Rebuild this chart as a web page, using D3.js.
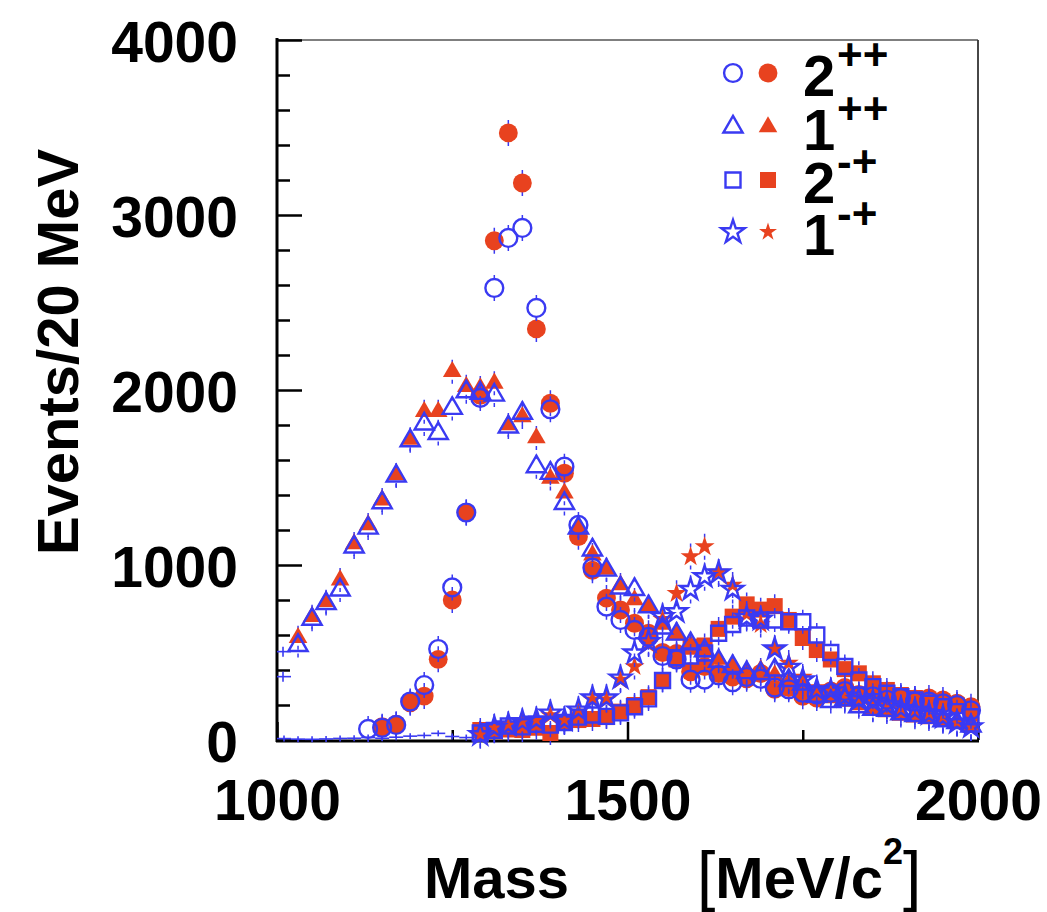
<!DOCTYPE html>
<html><head><meta charset="utf-8">
<script src="https://cdn.jsdelivr.net/npm/d3@7"></script>
<style>body{margin:0;background:#fff}svg text{font-family:"Liberation Sans",Arial,Helvetica,sans-serif;font-weight:bold;fill:#000}</style>
</head><body><svg id="c" width="1047" height="912"></svg>
<script>
const N = null;
const masses = [1010,1030,1050,1070,1090,1110,1130,1150,1170,1190,1210,1230,1250,1270,1290,1310,1330,1350,1370,1390,1410,1430,1450,1470,1490,1510,1530,1550,1570,1590,1610,1630,1650,1670,1690,1710,1730,1750,1770,1790,1810,1830,1850,1870,1890,1910,1930,1950,1970,1990];

const w2ppBlue = [N,N,N,N,N,N,63,70,86,220,314,520,872,1300,1955,2583,2869,2926,2469,1890,1562,1229,985,762,686,629,590,480,460,345,345,370,330,360,350,300,290,270,260,270,280,250,250,230,240,220,220,210,200,170];
const w2ppRed  = [N,N,N,N,N,N,N,76,90,213,251,461,800,1300,1970,2853,3469,3183,2349,1924,1524,1162,970,811,743,667,610,500,495,390,420,380,360,350,380,290,300,250,240,280,300,260,240,250,230,235,240,229,211,190];
const w1ppBlue = [N,540,690,780,857,1103,1211,1356,1509,1710,1806,1752,1895,1990,1981,1971,1789,1867,1562,1524,1352,1211,1086,971,869,860,762,640,605,550,510,450,420,385,380,400,340,320,250,220,230,190,175,170,150,140,130,110,100,80];
const w1ppRed  = [N,585,705,790,914,1120,1229,1371,1515,1718,1876,1876,2105,2019,2011,2038,1800,1846,1726,1495,1410,1219,1057,975,886,800,762,660,600,540,500,460,420,390,400,370,330,300,260,240,220,200,170,160,140,130,120,105,95,75];
const w2mpBlue = [N,N,N,N,N,N,N,N,N,N,N,N,N,N,40,55,80,75,90,85,100,131,143,135,155,190,235,340,470,480,497,610,660,697,686,686,676,676,600,500,420,343,305,267,248,229,210,190,162,133];
const w2mpRed  = [N,N,N,N,N,N,N,N,N,N,N,N,N,N,57,50,60,57,70,40,97,114,120,131,162,200,245,343,460,533,540,635,705,775,745,765,686,583,514,460,405,381,324,286,257,240,219,210,198,150];
const w1mpBlue = [N,N,N,N,N,N,N,N,N,N,N,N,N,N,30,70,86,105,114,154,114,171,240,240,354,497,562,705,733,860,933,955,860,700,690,520,415,343,286,280,250,230,220,200,180,170,150,130,100,75];
const w1mpRed  = [N,N,N,N,N,N,N,N,N,N,N,N,N,N,30,75,85,100,110,140,120,160,230,230,343,420,548,690,838,1048,1105,960,886,720,660,520,440,360,300,270,260,240,210,195,180,160,140,125,95,70];
// near-zero points drawn only as error crosses (1010-1270)
const nearZero = [8,5,4,6,9,10,14,10,16,22,26,38,20,14];
// edge crosses in the first bin
const edgeVals = [505, 362];

const xTicksMajor = [1000,1500,2000];
const xTicksMinor = [1250,1750];
const yTicksMajor = [0,1000,2000,3000,4000];
const yTicksMinor = [200,400,600,800,1200,1400,1600,1800,2200,2400,2600,2800,3200,3400,3600,3800];
const legendMain = ["2","1","2","1"];
const legendSup  = ["++","++","-+","-+"];

const RED = "#e8421f", BLUE = "#3a3af2";
const svg = d3.select("#c");
const x = d3.scaleLinear().domain([1000,2000]).range([277,978]);
const y = d3.scaleLinear().domain([0,4000]).range([740,40]);

// frame top/right
svg.append("line").attr("x1",277).attr("x2",978).attr("y1",40).attr("y2",40).attr("stroke","#555").attr("stroke-width",1.5);
svg.append("line").attr("x1",978).attr("x2",978).attr("y1",40).attr("y2",740).attr("stroke","#333").attr("stroke-width",1.8);

// axes
const yMaj = d3.axisLeft(y).tickValues(yTicksMajor).tickSize(-25).tickPadding(39).tickFormat(d3.format("d"));
const gy = svg.append("g").attr("transform","translate(277,0)").call(yMaj);
gy.append("g").call(d3.axisLeft(y).tickValues(yTicksMinor).tickSize(-13).tickFormat(""));
gy.selectAll("path.domain").remove();
gy.selectAll("line").attr("stroke","#000").attr("stroke-width",2.5);
gy.selectAll("text").attr("font-size",57).attr("dy",null).attr("dominant-baseline",null)
  .attr("transform",null).attr("y",21).attr("fill","#000").attr("font-family",null);

const xMaj = d3.axisBottom(x).tickValues(xTicksMajor).tickSize(-18).tickPadding(0).tickFormat(d3.format("d"));
const gx = svg.append("g").attr("transform","translate(0,740)").call(xMaj);
gx.append("g").call(d3.axisBottom(x).tickValues(xTicksMinor).tickSize(-10).tickFormat(""));
gx.selectAll("path.domain").remove();
gx.selectAll("line").attr("stroke","#000").attr("stroke-width",2.5);
gx.selectAll("text").attr("font-size",57).attr("dy",null).attr("y",80).attr("fill","#000").attr("font-family",null);

svg.append("line").attr("x1",277).attr("x2",277).attr("y1",38).attr("y2",742).attr("stroke","#000").attr("stroke-width",3);
svg.append("line").attr("x1",276).attr("x2",979).attr("y1",741).attr("y2",741).attr("stroke","#000").attr("stroke-width",3);

// axis titles
svg.append("text").attr("transform","translate(78,352) rotate(-90)").attr("text-anchor","middle").attr("font-size",58).text("Events/20 MeV");
svg.append("text").attr("x",424).attr("y",898).attr("font-size",58).text("Mass");
const ut = svg.append("text").attr("x",697).attr("y",898).attr("font-size",58);
ut.append("tspan").attr("font-weight","normal").attr("font-size",66).text("[");
ut.append("tspan").text("MeV/c");
ut.append("tspan").attr("font-size",36).attr("dy",-34).text("2");
ut.append("tspan").attr("font-weight","normal").attr("font-size",66).attr("dy",34).text("]");

// series definitions
const series = [
  {v:w2ppRed,  t:d3.symbolCircle,   s:280, f:true,  r:9},
  {v:w1ppRed,  t:d3.symbolTriangle, s:150, f:true,  r:8},
  {v:w2mpRed,  t:d3.symbolSquare,   s:256, f:true,  r:8},
  {v:w1mpRed,  t:d3.symbolStar,     s:125, f:true,  r:9},
  {v:w2ppBlue, t:d3.symbolCircle,   s:250, f:false, r:9},
  {v:w1ppBlue, t:d3.symbolTriangle, s:160, f:false, r:8},
  {v:w2mpBlue, t:d3.symbolSquare,   s:225, f:false, r:8},
  {v:w1mpBlue, t:d3.symbolStar,     s:140, f:false, r:10}
];

// near-zero crosses
const nz = svg.append("g").attr("stroke",BLUE).attr("stroke-width",1.6);
nearZero.forEach((v,i)=>{
  const m = masses[i];
  nz.append("line").attr("x1",x(m-10)).attr("x2",x(m+10)).attr("y1",y(v)).attr("y2",y(v));
  nz.append("line").attr("x1",x(m)).attr("x2",x(m)).attr("y1",y(v)-3).attr("y2",y(v)+3);
});
edgeVals.forEach(v=>{
  nz.append("line").attr("x1",x(1000)).attr("x2",x(masses[0]+10)).attr("y1",y(v)).attr("y2",y(v));
  nz.append("line").attr("x1",x(masses[0])-1).attr("x2",x(masses[0])-1).attr("y1",y(v)-5).attr("y2",y(v)+5);
});

series.forEach(sr=>{
  const pts = masses.map((m,i)=>({m, v:sr.v[i]})).filter(d=>d.v!==null);
  const g = svg.append("g");
  g.selectAll("path.err").data(pts).join("path").attr("class","err")
    .attr("d",d=>{const cx=x(d.m), cy=y(d.v); return `M${cx},${cy-sr.r-4}V${cy-sr.r}M${cx},${cy+sr.r}V${cy+sr.r+4}`;})
    .attr("stroke",BLUE).attr("stroke-width",1.5);
  g.selectAll("path.mk").data(pts).join("path").attr("class","mk")
    .attr("transform",d=>`translate(${x(d.m)},${y(d.v)})`)
    .attr("d",d3.symbol().type(sr.t).size(sr.s))
    .attr("fill",sr.f?RED:"none")
    .attr("stroke",sr.f?"none":BLUE).attr("stroke-width",2.4);
});

// legend
const legY = [73,127,180,232];
const leg = svg.append("g");
series.slice(0,4).forEach((sr,i)=>{
  leg.append("path").attr("transform",`translate(768,${legY[i]})`).attr("d",d3.symbol().type(sr.t).size(sr.s*(i===3?0.8:1))).attr("fill",RED);
  const sb = series[i+4];
  leg.append("path").attr("transform",`translate(733,${legY[i]})`).attr("d",d3.symbol().type(sb.t).size(sb.s*(i===3?1.2:1))).attr("fill","none").attr("stroke",BLUE).attr("stroke-width",2.4);
  leg.append("text").attr("x",803).attr("y",legY[i]+23).attr("font-size",58).text(legendMain[i]);
  leg.append("text").attr("x",837).attr("y",legY[i]-3).attr("font-size",44).text(legendSup[i]);
});
</script></body></html>
